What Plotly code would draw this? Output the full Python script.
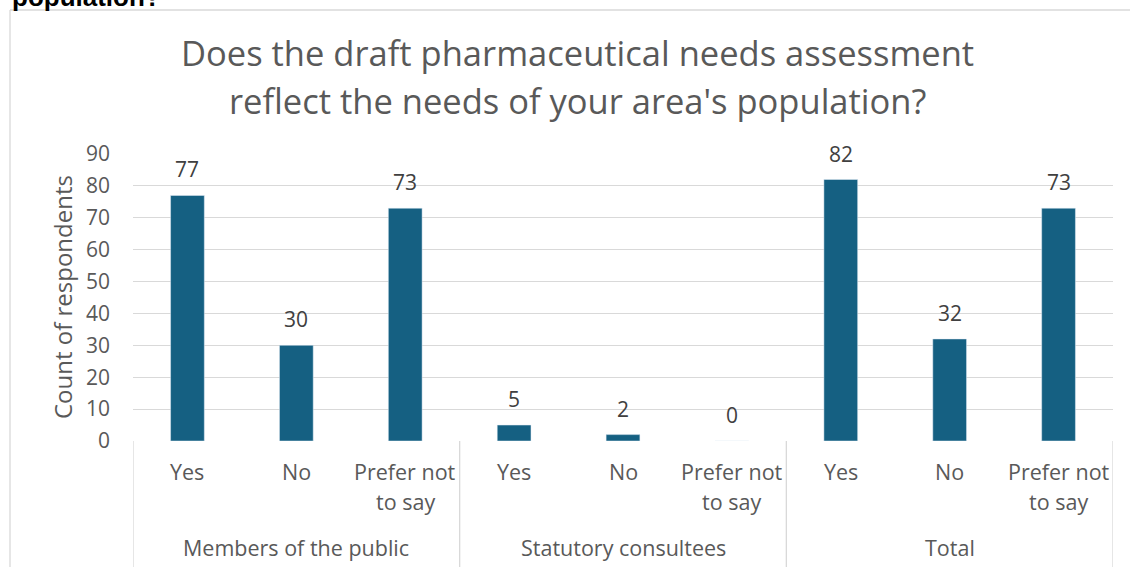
import plotly.graph_objects as go

groups = ["Members of the public", "Statutory consultees", "Total"]
answer_labels = ["Yes", "No", "Prefer not\nto say"]
values_public = [77, 30, 73]
values_statutory = [5, 2, 0]
values_total = [82, 32, 73]
y_ticks = list(range(0, 100, 10))

title_lines = ["Does the draft pharmaceutical needs assessment",
               "reflect the needs of your area's population?"]
y_title = "Count of respondents"
cut_text = "population?"

W, H = 1130, 567
L, R, T, B = 133, 17, 154, 126
pw = W - L - R
ph = H - T - B


def px(x):
    return (x - L) / pw


def py(y):
    return (H - B - y) / ph


FONT = "Open Sans"
GREY = "#595959"
GRID = "#D9D9D9"

values = values_public + values_statutory + values_total
labels = answer_labels * len(groups)
xs = list(range(len(values)))

fig = go.Figure(go.Bar(x=xs, y=values, marker_color="#156082", width=0.31,
                       hoverinfo="skip"))

ann = []
# data labels
for x, v in zip(xs, values):
    ann.append(dict(x=x, y=v, xref="x", yref="y", text=str(v), showarrow=False,
                    yanchor="middle", yshift=26,
                    font=dict(family=FONT, size=21, color="#404040")))
# category labels
for x, lab in zip(xs, labels):
    for i, line in enumerate(lab.split("\n")):
        ann.append(dict(x=x, y=py(471 + 30 * i), xref="x", yref="paper", text=line,
                        showarrow=False, yanchor="middle",
                        font=dict(family=FONT, size=21.5, color=GREY)))
# group labels
for g, name in enumerate(groups):
    ann.append(dict(x=3 * g + 1, y=py(547), xref="x", yref="paper", text=name,
                    showarrow=False, yanchor="middle",
                    font=dict(family=FONT, size=21.5, color=GREY)))
# title
for i, line in enumerate(title_lines):
    ann.append(dict(x=px(577), y=py(52 + 48 * i), xref="paper", yref="paper",
                    text=line, showarrow=False, xanchor="center", yanchor="middle",
                    font=dict(family=FONT, size=34.5, color=GREY)))
# y-axis title
ann.append(dict(x=px(62), y=py(297), xref="paper", yref="paper", text=y_title,
                textangle=-90, showarrow=False, xanchor="center", yanchor="middle",
                font=dict(family=FONT, size=24, color=GREY)))
# cut-off heading from the page above
ann.append(dict(x=px(10), y=py(14), xref="paper", yref="paper", text="<b>" + cut_text + "</b>",
                showarrow=False, xanchor="left", yanchor="bottom",
                font=dict(family="Liberation Sans", size=26, color="#000000")))

shapes = []
# group separators
for sx in [-0.5, 2.5, 5.5, 8.5]:
    shapes.append(dict(type="line", xref="x", yref="paper", x0=sx, x1=sx,
                       y0=0, y1=py(H + 5), line=dict(color=GRID, width=1.3)))
# chart border
shapes.append(dict(type="line", xref="paper", yref="paper", x0=px(10), x1=px(10),
                   y0=py(10), y1=py(H + 5), line=dict(color=GRID, width=1.3)))
shapes.append(dict(type="line", xref="paper", yref="paper", x0=px(10), x1=px(W + 5),
                   y0=py(10), y1=py(10), line=dict(color=GRID, width=1.3)))

fig.update_layout(
    width=W, height=H,
    margin=dict(l=L, r=R, t=T, b=B, autoexpand=False),
    paper_bgcolor="white", plot_bgcolor="white",
    showlegend=False,
    annotations=ann, shapes=shapes,
    xaxis=dict(range=[-0.5, 8.5], showticklabels=False, showgrid=False,
               zeroline=False, showline=False, ticks=""),
    yaxis=dict(range=[0, 90], tickvals=y_ticks, showgrid=True, gridcolor=GRID,
               gridwidth=1.3, zeroline=False, showline=False, ticks="",
               ticklabelstandoff=22,
               tickfont=dict(family=FONT, size=21, color=GREY)),
    font=dict(family=FONT),
)

fig.write_html("out.html")
